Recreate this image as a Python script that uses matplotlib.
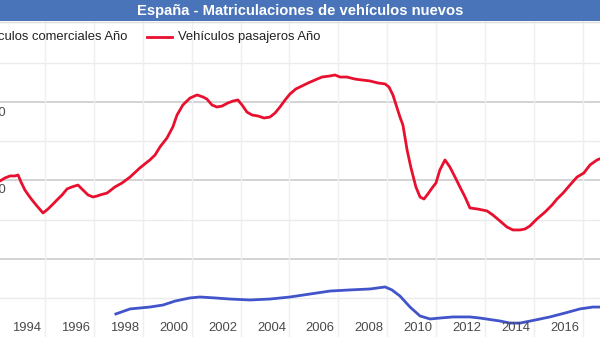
import matplotlib
matplotlib.use('Agg')
import matplotlib.pyplot as plt
from matplotlib.patches import Rectangle
from matplotlib.lines import Line2D

plt.rcParams['font.family'] = ['Liberation Sans', 'DejaVu Sans']

# Matriculaciones, suma 12 meses (miles de vehiculos)
pas_year = [1992.04, 1992.16, 1992.36, 1992.57, 1992.77, 1992.90, 1993.02, 1993.18, 1993.35,
            1993.47, 1993.67, 1993.92, 1994.12, 1994.33, 1994.49, 1994.70, 1994.90, 1995.10,
            1995.35, 1995.51, 1995.76, 1995.96, 1996.13, 1996.25, 1996.54, 1996.86, 1997.15,
            1997.48, 1997.88, 1998.29, 1998.50, 1998.70, 1998.99, 1999.23, 1999.40, 1999.64,
            1999.93, 2000.22, 2000.46, 2000.62, 2000.83, 2001.03, 2001.24, 2001.48, 2001.69,
            2001.89, 2002.06, 2002.26, 2002.47, 2002.71, 2002.96, 2003.20, 2003.41, 2003.61,
            2003.82, 2004.02, 2004.26, 2004.51, 2004.76, 2005.04, 2005.33, 2005.66, 2005.86,
            2006.07, 2006.35, 2006.68, 2006.97, 2007.29, 2007.62, 2007.91, 2008.07, 2008.23,
            2008.40, 2008.52, 2008.64, 2008.81, 2008.97, 2009.17, 2009.34, 2009.50, 2009.66,
            2009.83, 2009.99, 2010.15, 2010.36, 2010.56, 2010.77, 2010.97, 2011.18, 2011.38,
            2011.71, 2012.08, 2012.32, 2012.61, 2012.89, 2013.14, 2013.43, 2013.63, 2013.83,
            2014.12, 2014.45, 2014.74, 2014.94, 2015.19, 2015.47, 2015.76, 2016.04, 2016.29,
            2016.58, 2016.78]
pas_val = [990, 997, 1016, 1029, 1029, 1035, 990, 939, 901,
           876, 838, 793, 818, 850, 876, 908, 946, 959,
           971, 946, 908, 895, 901, 908, 920, 959, 984,
           1022, 1080, 1131, 1162, 1213, 1271, 1341, 1417, 1481,
           1525, 1545, 1532, 1519, 1481, 1468, 1474, 1494, 1506,
           1513, 1481, 1436, 1417, 1411, 1398, 1404, 1430, 1468,
           1513, 1551, 1583, 1602, 1621, 1640, 1659, 1666, 1672,
           1659, 1659, 1646, 1640, 1634, 1621, 1615, 1595, 1545,
           1462, 1404, 1353, 1194, 1080, 959, 895, 882, 914,
           952, 984, 1067, 1131, 1086, 1022, 959, 895, 825,
           818, 806, 780, 742, 704, 685, 685, 691, 710,
           755, 799, 844, 882, 920, 971, 1022, 1048, 1099,
           1131, 1143]

com_year = [1996.90, 1997.48, 1998.29, 1998.83, 1999.32, 1999.93, 2000.34, 2000.95, 2001.57,
            2002.38, 2003.20, 2004.02, 2004.84, 2005.66, 2006.47, 2007.29, 2007.91, 2008.19,
            2008.52, 2008.93, 2009.34, 2009.75, 2010.15, 2010.69, 2011.38, 2011.79, 2012.61,
            2013.02, 2013.43, 2014.04, 2014.65, 2015.27, 2015.88, 2016.41, 2016.78]
com_val = [150, 182, 194, 207, 232, 252, 258, 252, 245,
           239, 245, 258, 277, 296, 303, 309, 322, 303,
           264, 194, 137, 118, 124, 131, 131, 124, 105,
           92, 92, 111, 131, 156, 182, 194, 194]

years = [1994, 1996, 1998, 2000, 2002, 2004, 2006, 2008, 2010, 2012, 2014, 2016, 2018]
y_major = [500, 1000, 1500]
y_minor = [250, 750, 1250, 1750]
y_labels = ['1.500.000', '1.000.000']

W, H = 600, 337
fig = plt.figure(figsize=(6.0, 3.37), dpi=100)
ax = fig.add_axes([0, 0, 1, 1])
ax.set_xlim(1992.16, 2016.70)
ax.set_ylim(3.2, 2149.6)
ax.axis('off')

for v in y_minor:
    ax.axhline(v, color='#ebebeb', lw=1, zorder=1)
for v in y_major:
    ax.axhline(v, color='#cccccc', lw=1.2, zorder=1)
for yr in years:
    ax.axvline(yr, color='#efefef', lw=1, zorder=1)

ax.plot(pas_year, pas_val, color='#e8102e', lw=2, zorder=3)
ax.plot(com_year, com_val, color='#4254c9', lw=2, zorder=3)

# etiquetas del eje x (desplazadas a la izquierda de la rejilla, como en el original)
for yr in years:
    ax.text(yr - 0.74, 1 - 328 / H, str(yr), transform=ax.get_xaxis_transform(),
            ha='center', va='center', fontsize=9.4, color='#4a4a4a', zorder=4)

# etiquetas del eje y, cortadas por el borde izquierdo
for lab, ypx in zip(y_labels, [113, 190]):
    fig.text(5.5 / W, 1 - ypx / H, lab, ha='right', va='center',
             fontsize=9.4, color='#4a4a4a')

# barra de titulo
fig.patches.append(Rectangle((0, 1 - 21 / H), 1, 21 / H, transform=fig.transFigure,
                             facecolor='#4a74b9', edgecolor='none', zorder=5))
fig.lines.append(Line2D([0, 1], [1 - 22 / H] * 2, transform=fig.transFigure,
                        color='#dddddd', lw=1, zorder=5))
fig.text(0.5, 1 - 10.5 / H, 'España - Matriculaciones de vehículos nuevos', ha='center',
         va='center', fontsize=10.6, fontweight='bold', color='white', zorder=6)

# leyenda
fig.text(127 / W, 1 - 37 / H, 'Vehículos comerciales Año', ha='right', va='center',
         fontsize=9.4, color='#222222')
fig.lines.append(Line2D([147 / W, 172 / W], [1 - 37 / H] * 2, transform=fig.transFigure,
                        color='#e8102e', lw=2))
fig.text(178 / W, 1 - 37 / H, 'Vehículos pasajeros Año', ha='left', va='center',
         fontsize=9.4, color='#222222')

fig.savefig('out.png', dpi=100)
